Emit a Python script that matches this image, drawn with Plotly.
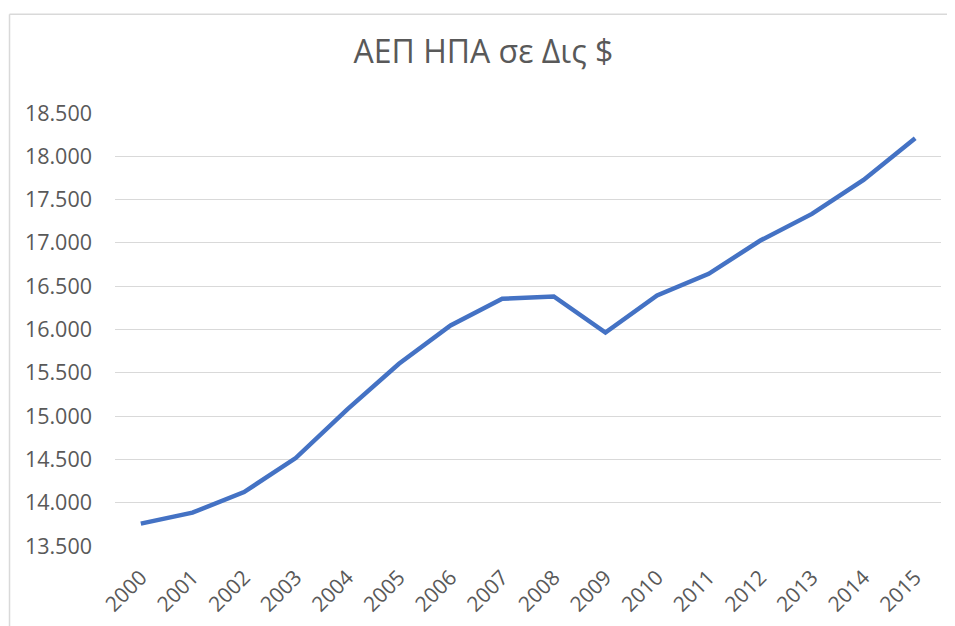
import plotly.graph_objects as go

# ΑΕΠ ΗΠΑ (Δις $)
years = [str(y) for y in range(2000, 2016)]
gdp = [13758, 13885, 14123, 14515, 15077, 15604, 16046, 16354,
       16381, 15965, 16393, 16643, 17027, 17335, 17727, 18208]
y_ticks = [13500, 14000, 14500, 15000, 15500, 16000, 16500, 17000, 17500, 18000, 18500]
y_labels = ["13.500", "14.000", "14.500", "15.000", "15.500", "16.000",
            "16.500", "17.000", "17.500", "18.000", "18.500"]

txt = "#595959"
border = dict(color="#D9D9D9", width=1.5)

fig = go.Figure()
fig.add_trace(go.Scatter(
    x=years, y=gdp, mode="lines",
    line=dict(color="#4472C4", width=4.5),
    showlegend=False,
))

# page body adds an 8px offset, so the figure is 8px smaller than the window
fig.update_layout(
    width=947, height=618,
    margin=dict(l=107, r=14, t=105, b=80, autoexpand=False),
    paper_bgcolor="white", plot_bgcolor="white",
    font=dict(family="Open Sans, sans-serif", color=txt),
    title=dict(text="ΑΕΠ ΗΠΑ σε Δις $", x=0.502, xanchor="center",
               y=0.929, yanchor="middle", font=dict(size=32, color=txt)),
    xaxis=dict(type="category", range=[-0.5, 15.5], tickangle=-45,
               showgrid=False, showline=False, ticks="", automargin=False,
               ticklabelstandoff=14, tickfont=dict(size=21, color=txt)),
    yaxis=dict(range=[13500, 18500], tickvals=y_ticks, ticktext=y_labels,
               showgrid=True, gridcolor="#D9D9D9", gridwidth=1.3,
               zeroline=False, showline=False, ticks="", automargin=False,
               ticklabelstandoff=22, tickfont=dict(size=21.5, color=txt)),
    # chart-area frame: only the left and top edges show in the crop
    shapes=[
        dict(type="line", xref="paper", yref="paper",
             x0=-0.1277, x1=-0.1277, y0=-0.3, y1=1.2281, line=border),
        dict(type="line", xref="paper", yref="paper",
             x0=-0.1277, x1=1.03, y0=1.2281, y1=1.2281, line=border),
    ],
)

fig.write_html("out.html")
